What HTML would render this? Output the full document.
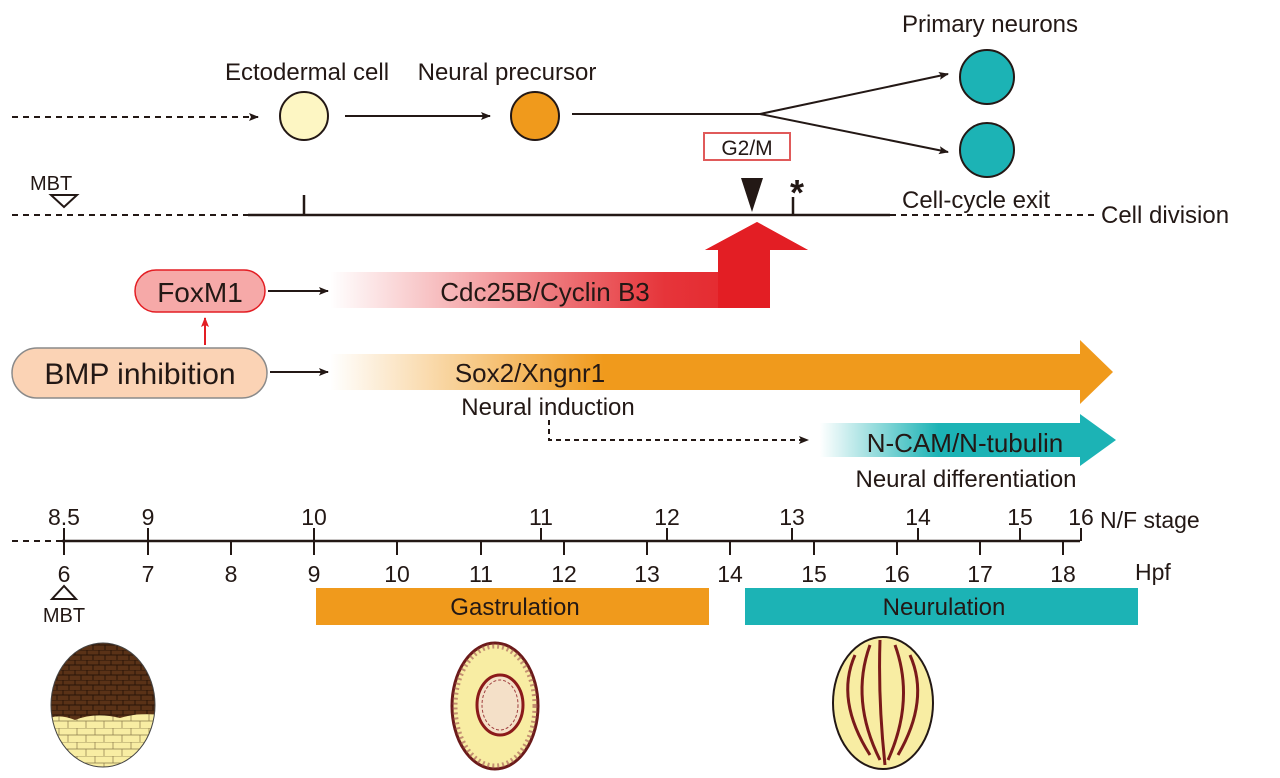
<!DOCTYPE html>
<html><head><meta charset="utf-8"><style>
body{margin:0;background:#fff;}
svg{display:block;font-family:"Liberation Sans",sans-serif;}
</style></head><body>
<svg width="1280" height="778" viewBox="0 0 1280 778" xmlns="http://www.w3.org/2000/svg">
<defs>
<marker id="ah" markerWidth="10" markerHeight="10" refX="9" refY="5" orient="auto" markerUnits="userSpaceOnUse"><path d="M0,1 L10,5 L0,9 L2,5Z" fill="#231815"/></marker>
<marker id="ahr" markerWidth="10" markerHeight="10" refX="9" refY="5" orient="auto" markerUnits="userSpaceOnUse"><path d="M0,1 L10,5 L0,9 L2,5Z" fill="#e31e24"/></marker>
<linearGradient id="gr" x1="0" x2="1"><stop offset="0" stop-color="#e31e24" stop-opacity="0"/><stop offset="0.7" stop-color="#e31e24" stop-opacity="0.9"/><stop offset="1" stop-color="#e31e24"/></linearGradient>
<linearGradient id="go" x1="0" x2="1"><stop offset="0" stop-color="#f09a1c" stop-opacity="0"/><stop offset="0.35" stop-color="#f09a1c"/><stop offset="1" stop-color="#f09a1c"/></linearGradient>
<linearGradient id="gt" x1="0" x2="1"><stop offset="0" stop-color="#1cb3b5" stop-opacity="0"/><stop offset="0.4" stop-color="#1cb3b5"/><stop offset="1" stop-color="#1cb3b5"/></linearGradient>
<pattern id="cells" width="12" height="10" patternUnits="userSpaceOnUse"><rect width="12" height="10" fill="#5a3217"/><path d="M0,0 L12,0 M0,5 L12,5 M3,0 L3,5 M9,5 L9,10" stroke="#2a1508" stroke-width="1"/></pattern>
<pattern id="ycells" width="18" height="14" patternUnits="userSpaceOnUse"><rect width="18" height="14" fill="#f8eda3"/><path d="M0,0 L18,0 M0,7 L18,7 M5,0 L5,7 M14,7 L14,14" stroke="#8a7a4a" stroke-width="0.7"/></pattern>
</defs>
<g fill="#231815" font-size="24">
<text x="307" y="80" text-anchor="middle">Ectodermal cell</text>
<text x="507" y="80" text-anchor="middle">Neural precursor</text>
<text x="990" y="32" text-anchor="middle">Primary neurons</text>
<text x="902" y="208">Cell-cycle exit</text>
<text x="1101" y="223">Cell division</text>
<text x="30" y="190" font-size="20">MBT</text>
</g>
<line x1="12" y1="117" x2="258" y2="117" stroke="#231815" stroke-width="2" stroke-dasharray="6,5" marker-end="url(#ah)"/>
<circle cx="304" cy="116" r="24" fill="#fdf6c3" stroke="#231815" stroke-width="2"/>
<line x1="345" y1="116" x2="490" y2="116" stroke="#231815" stroke-width="2" marker-end="url(#ah)"/>
<circle cx="535" cy="116" r="24" fill="#f09a1c" stroke="#231815" stroke-width="2"/>
<path d="M572,114 L760,114" stroke="#231815" stroke-width="2" fill="none"/>
<line x1="760" y1="114" x2="948" y2="74" stroke="#231815" stroke-width="2" marker-end="url(#ah)"/>
<line x1="760" y1="114" x2="948" y2="152" stroke="#231815" stroke-width="2" marker-end="url(#ah)"/>
<circle cx="987" cy="77" r="27" fill="#1cb3b5" stroke="#231815" stroke-width="2"/>
<circle cx="987" cy="150" r="27" fill="#1cb3b5" stroke="#231815" stroke-width="2"/>
<rect x="704" y="133" width="86" height="27" fill="#fff" stroke="#e05a5a" stroke-width="2"/>
<text x="747" y="155" font-size="21" text-anchor="middle" fill="#231815">G2/M</text>
<path d="M741,178 L763,178 L752,212Z" fill="#231815"/>
<text x="797" y="205" font-size="36" text-anchor="middle" fill="#231815" font-weight="bold">*</text>
<line x1="12" y1="215" x2="248" y2="215" stroke="#231815" stroke-width="2" stroke-dasharray="6,5"/>
<line x1="248" y1="215" x2="890" y2="215" stroke="#231815" stroke-width="2.5"/>
<line x1="890" y1="215" x2="1095" y2="215" stroke="#231815" stroke-width="2" stroke-dasharray="6,5"/>
<line x1="304" y1="195" x2="304" y2="215" stroke="#231815" stroke-width="2.5"/>
<line x1="793" y1="197" x2="793" y2="215" stroke="#231815" stroke-width="2.5"/>
<path d="M51,195 L77,195 L64,207Z" fill="none" stroke="#231815" stroke-width="2"/>
<!-- FoxM1 -->
<rect x="135" y="270" width="130" height="42" rx="21" fill="#f6a9a8" stroke="#e31e24" stroke-width="1.5"/>
<text x="200" y="302" font-size="28" text-anchor="middle" fill="#231815">FoxM1</text>
<line x1="268" y1="291" x2="328" y2="291" stroke="#231815" stroke-width="2" marker-end="url(#ah)"/>
<path d="M330,272 L718,272 L718,250 L705,250 L757,222 L808,250 L770,250 L770,308 L330,308Z" fill="url(#gr)"/>
<path d="M718,272 L718,250 L705,250 L757,222 L808,250 L770,250 L770,308 L718,308Z" fill="#e31e24"/>
<text x="545" y="301" font-size="26" text-anchor="middle" fill="#231815">Cdc25B/Cyclin B3</text>
<line x1="205" y1="345" x2="205" y2="318" stroke="#e31e24" stroke-width="2" marker-end="url(#ahr)"/>
<!-- BMP -->
<rect x="12" y="348" width="255" height="50" rx="25" fill="#fbd3b5" stroke="#8a8a8a" stroke-width="1.5"/>
<text x="140" y="384" font-size="30" text-anchor="middle" fill="#231815">BMP inhibition</text>
<line x1="270" y1="372" x2="328" y2="372" stroke="#231815" stroke-width="2" marker-end="url(#ah)"/>
<path d="M330,354 L1080,354 L1080,340 L1113,372 L1080,404 L1080,390 L330,390Z" fill="url(#go)"/>
<text x="530" y="382" font-size="26" text-anchor="middle" fill="#231815">Sox2/Xngnr1</text>
<text x="548" y="415" font-size="24" text-anchor="middle" fill="#231815">Neural induction</text>
<path d="M549,420 L549,440 L808,440" stroke="#231815" stroke-width="2" stroke-dasharray="5,4" fill="none" marker-end="url(#ah)"/>
<path d="M820,423 L1080,423 L1080,414 L1116,440 L1080,466 L1080,457 L820,457Z" fill="url(#gt)"/>
<text x="965" y="452" font-size="26" text-anchor="middle" fill="#231815">N-CAM/N-tubulin</text>
<text x="966" y="487" font-size="24" text-anchor="middle" fill="#231815">Neural differentiation</text>
<!-- axis -->
<line x1="12" y1="541" x2="62" y2="541" stroke="#231815" stroke-width="2" stroke-dasharray="6,5"/>
<line x1="62" y1="541" x2="1080" y2="541" stroke="#231815" stroke-width="2.5"/>
<g stroke="#231815" stroke-width="2">
<line x1="64" y1="528" x2="64" y2="555"/><line x1="148" y1="528" x2="148" y2="555"/><line x1="314" y1="528" x2="314" y2="555"/>
<line x1="541" y1="528" x2="541" y2="541"/><line x1="667" y1="528" x2="667" y2="541"/><line x1="792" y1="528" x2="792" y2="541"/>
<line x1="918" y1="528" x2="918" y2="541"/><line x1="1020" y1="528" x2="1020" y2="541"/><line x1="1081" y1="528" x2="1081" y2="541"/>
<line x1="231" y1="541" x2="231" y2="555"/><line x1="397" y1="541" x2="397" y2="555"/><line x1="481" y1="541" x2="481" y2="555"/>
<line x1="564" y1="541" x2="564" y2="555"/><line x1="647" y1="541" x2="647" y2="555"/><line x1="730" y1="541" x2="730" y2="555"/>
<line x1="814" y1="541" x2="814" y2="555"/><line x1="897" y1="541" x2="897" y2="555"/><line x1="980" y1="541" x2="980" y2="555"/><line x1="1063" y1="541" x2="1063" y2="555"/>
</g>
<g font-size="23" text-anchor="middle" fill="#231815">
<text x="64" y="525">8.5</text><text x="148" y="525">9</text><text x="314" y="525">10</text><text x="541" y="525">11</text>
<text x="667" y="525">12</text><text x="792" y="525">13</text><text x="918" y="525">14</text><text x="1020" y="525">15</text><text x="1081" y="525">16</text>
<text x="64" y="582">6</text><text x="148" y="582">7</text><text x="231" y="582">8</text><text x="314" y="582">9</text><text x="397" y="582">10</text>
<text x="481" y="582">11</text><text x="564" y="582">12</text><text x="647" y="582">13</text><text x="730" y="582">14</text><text x="814" y="582">15</text>
<text x="897" y="582">16</text><text x="980" y="582">17</text><text x="1063" y="582">18</text>
</g>
<text x="1100" y="528" font-size="23" fill="#231815">N/F stage</text>
<text x="1135" y="580" font-size="23" fill="#231815">Hpf</text>
<path d="M64,586 L52,599 L76,599Z" fill="none" stroke="#231815" stroke-width="2"/>
<text x="64" y="622" font-size="20" text-anchor="middle" fill="#231815">MBT</text>
<rect x="316" y="588" width="393" height="37" fill="#f09a1c"/>
<text x="515" y="615" font-size="24" text-anchor="middle" fill="#231815">Gastrulation</text>
<rect x="745" y="588" width="393" height="37" fill="#1cb3b5"/>
<text x="944" y="615" font-size="24" text-anchor="middle" fill="#231815">Neurulation</text>
<!-- embryos -->
<clipPath id="c1"><ellipse cx="103" cy="705" rx="52" ry="62"/></clipPath>
<g clip-path="url(#c1)"><rect x="50" y="640" width="110" height="140" fill="url(#ycells)"/><path d="M50,640 L160,640 L160,715 Q140,712 120,718 Q95,712 75,720 Q60,714 50,718Z" fill="url(#cells)"/></g>
<ellipse cx="103" cy="705" rx="52" ry="62" fill="none" stroke="#444" stroke-width="1"/>
<ellipse cx="495" cy="706" rx="43" ry="63" fill="#f8eda3" stroke="#6b1a1a" stroke-width="3"/>
<ellipse cx="495" cy="706" rx="40" ry="60" fill="none" stroke="#a05050" stroke-width="5" stroke-dasharray="2,3" opacity="0.6"/>
<ellipse cx="500" cy="705" rx="23" ry="30" fill="#f4e0c8" stroke="#8b1a1a" stroke-width="3"/>
<ellipse cx="500" cy="705" rx="18" ry="25" fill="none" stroke="#a04040" stroke-width="1" stroke-dasharray="3,2"/>
<ellipse cx="883" cy="703" rx="50" ry="66" fill="#f8eda3" stroke="#231815" stroke-width="2"/>
<g stroke="#7a1a1a" stroke-width="3" fill="none">
<path d="M880,640 Q878,700 885,765"/><path d="M870,645 Q850,700 880,760"/><path d="M895,645 Q915,700 888,760"/>
<path d="M855,655 Q835,700 870,755"/><path d="M910,655 Q930,700 898,755"/>
</g>
</svg>
</body></html>
